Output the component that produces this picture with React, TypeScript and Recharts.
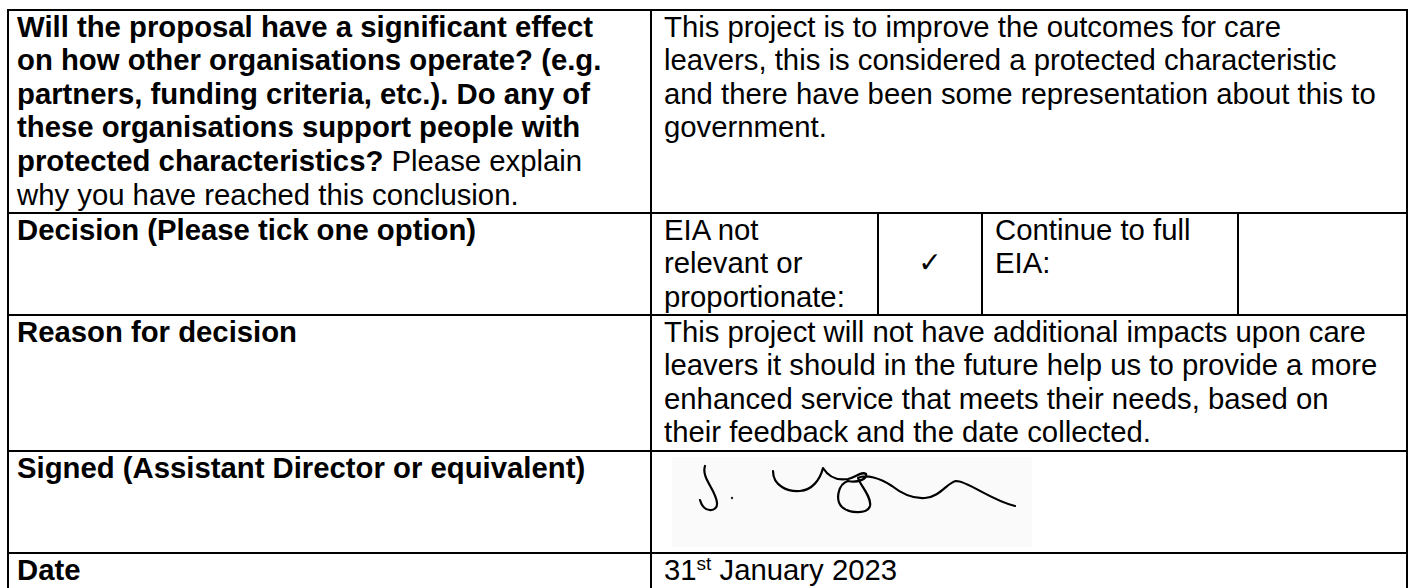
import { Surface, Layer, Text } from "recharts"

// left column, first row: each line is a list of runs (bold or not)
const questionLines = [
  [{ text: "Will the proposal have a significant effect", bold: true }],
  [{ text: "on how other organisations operate? (e.g.", bold: true }],
  [{ text: "partners, funding criteria, etc.). Do any of", bold: true }],
  [{ text: "these organisations support people with", bold: true }],
  [
    { text: "protected characteristics?", bold: true },
    { text: " Please explain", bold: false },
  ],
  [{ text: "why you have reached this conclusion.", bold: false }],
]

const answerLines = [
  "This project is to improve the outcomes for care",
  "leavers, this is considered a protected characteristic",
  "and there have been some representation about this to",
  "government.",
]

const rowLabels = [
  "Decision (Please tick one option)",
  "Reason for decision",
  "Signed (Assistant Director or equivalent)",
  "Date",
]

const decisionOptions = [
  ["EIA not", "relevant or", "proportionate:"],
  ["Continue to full", "EIA:"],
]
const decisionMarks = ["✓", ""]

const reasonLines = [
  "This project will not have additional impacts upon care",
  "leavers it should in the future help us to provide a more",
  "enhanced service that meets their needs, based on",
  "their feedback and the date collected.",
]

const dateDay = "31"
const dateSuffix = "st"
const dateRest = " January 2023"

// layout
const W = 1413
const H = 588
const FS = 29.3
const LH = 33.6
const BASE = 26.5
const FONT = "'Liberation Sans', Arial, sans-serif"
const colX = [8, 651, 1407]
const subX = [651, 878, 982, 1238, 1407]
const rowY = [10, 213, 315, 451, 553, 600]
const padL = 9
const padR = 13

const signature =
  "M705,466 C701,478 716,490 717,503 C718,512 704,514 700,500 " +
  "M773,471 C773,486 788,492 800,491 C812,490 820,480 823,468 " +
  "C828,476 836,481 848,479 C856,477 862,471 866,474 C868,479 857,483 848,481 " +
  "C838,484 835,500 842,507 C850,514 868,514 870,506 C872,497 860,485 858,478 " +
  "C866,474 880,478 892,486 C902,494 912,499 925,498 C940,497 948,482 956,481 " +
  "C968,481 990,500 1015,506"

function Line({ x1, y1, x2, y2 }: { x1: number; y1: number; x2: number; y2: number }) {
  return <line x1={x1} y1={y1} x2={x2} y2={y2} stroke="#000" strokeWidth={2} />
}

function TextBlock({ x, top, lines, bold = false }: { x: number; top: number; lines: string[]; bold?: boolean }) {
  return (
    <Layer>
      {lines.map((t, i) => (
        <Text
          key={i}
          x={x}
          y={top + BASE + i * LH}
          fontSize={FS}
          fontFamily={FONT}
          fontWeight={bold ? "bold" : "normal"}
          fill="#000"
        >
          {t}
        </Text>
      ))}
    </Layer>
  )
}

export default function App() {
  return (
    <div style={{ position: "absolute", left: 0, top: 0, width: W, height: H, background: "#fff", overflow: "hidden" }}>
      <Surface width={W} height={H}>
        {/* first row */}
        {questionLines.map((runs, i) => (
          <text key={i} x={colX[0] + padL} y={rowY[0] + BASE + i * LH} fontSize={FS} fontFamily={FONT} fill="#000">
            {runs.map((r, j) => (
              <tspan key={j} fontWeight={r.bold ? "bold" : "normal"} style={{ whiteSpace: "pre" }}>
                {r.text}
              </tspan>
            ))}
          </text>
        ))}
        <TextBlock x={colX[1] + padR} top={rowY[0]} lines={answerLines} />

        {/* row labels */}
        {rowLabels.map((label, i) => (
          <TextBlock key={label} x={colX[0] + padL} top={rowY[i + 1]} lines={[label]} bold />
        ))}

        {/* decision row */}
        {decisionOptions.map((opt, i) => (
          <TextBlock key={i} x={subX[i * 2] + padR} top={rowY[1]} lines={opt} />
        ))}
        {decisionMarks.map((m, i) => (
          <text
            key={i}
            x={(subX[i * 2 + 1] + subX[i * 2 + 2]) / 2}
            y={rowY[1] + BASE + LH - 1}
            fontSize={28}
            fontFamily="'DejaVu Sans', sans-serif"
            textAnchor="middle"
            fill="#000"
          >
            {m}
          </text>
        ))}

        {/* reason */}
        <TextBlock x={colX[1] + padR} top={rowY[2]} lines={reasonLines} />

        {/* signature */}
        <rect x={672} y={457} width={360} height={90} fill="#fafafa" />
        <circle cx={732} cy={498} r={1.2} fill="#222" />
        <path d={signature} fill="none" stroke="#000" strokeWidth={2.2} strokeLinecap="round" strokeLinejoin="round" />

        {/* date */}
        <text x={colX[1] + padR} y={rowY[4] + BASE} fontSize={FS} fontFamily={FONT} fill="#000">
          <tspan>{dateDay}</tspan>
          <tspan fontSize={19} dy={-10}>{dateSuffix}</tspan>
          <tspan dy={10} style={{ whiteSpace: "pre" }}>{dateRest}</tspan>
        </text>

        {/* grid */}
        {rowY.map((y) => (
          <Line key={"h" + y} x1={colX[0] - 1} y1={y} x2={colX[2] + 1} y2={y} />
        ))}
        {colX.map((x) => (
          <Line key={"v" + x} x1={x} y1={rowY[0] - 1} x2={x} y2={H + 20} />
        ))}
        {subX.slice(1, 4).map((x) => (
          <Line key={"s" + x} x1={x} y1={rowY[1]} x2={x} y2={rowY[2]} />
        ))}
      </Surface>
    </div>
  )
}
